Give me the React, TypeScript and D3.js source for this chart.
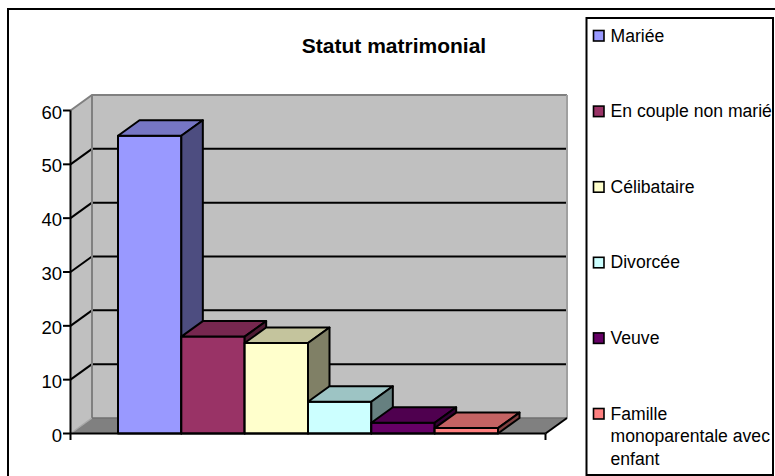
import React from "react";
import * as d3 from "d3";

const title = "Statut matrimonial";
const categories = [
  "Mariée",
  "En couple non mariée",
  "Célibataire",
  "Divorcée",
  "Veuve",
  "Famille monoparentale avec enfant",
];
const values = [55.3, 18, 16.8, 5.9, 2, 1];
const colors = ["#9999FF", "#993366", "#FFFFCC", "#CCFFFF", "#660066", "#FF8080"];
const yTicks = [0, 10, 20, 30, 40, 50, 60];
const legendLines = [
  ["Mariée"],
  ["En couple non mariée"],
  ["Célibataire"],
  ["Divorcée"],
  ["Veuve"],
  ["Famille", "monoparentale avec", "enfant"],
];

const FONT = "'Liberation Sans', Arial, sans-serif";
const W = 775;
const H = 476;

function shade(c: string, f: number) {
  const r = d3.rgb(c);
  return d3.rgb(r.r * f, r.g * f, r.b * f).formatHex();
}

export default function App() {
  const x0 = 70.5;
  const x1 = 545.5;
  const DX = 21.5;
  const DY = -15.5;
  const y = d3.scaleLinear().domain([0, 60]).range([433.5, 110.5]);
  const x = d3
    .scaleBand<string>()
    .domain(categories)
    .range([x0, x1])
    .paddingInner(0)
    .paddingOuter(0.75);
  const bw = x.bandwidth();
  const yb = (v: number) => y(v) + DY;

  const pts = (arr: number[][]) => arr.map((p) => p.join(",")).join(" ");

  const legX = 586.5;
  const legY = 18;
  const legW = 186.5;
  const legH = 457;
  const itemY0 = 35.5;
  const itemStep = 75.6;

  return (
    <div style={{ position: "absolute", left: 0, top: 0 }}>
      <svg width={W} height={H} style={{ display: "block" }} fontFamily={FONT}>
        <defs>
          <clipPath id="legclip">
            <rect x={legX} y={legY} width={legW} height={legH} />
          </clipPath>
        </defs>
        <rect x={0} y={0} width={W} height={H} fill="#fff" />
        {/* outer chart border */}
        <rect x={8} y={9} width={800} height={520} fill="none" stroke="#000" strokeWidth={2} />

        {/* title */}
        <text x={394} y={53} textAnchor="middle" fontWeight="bold" fontSize={21}>
          {title}
        </text>

        {/* side wall */}
        <polygon
          points={pts([
            [x0, y(60)],
            [x0 + DX, yb(60)],
            [x0 + DX, yb(0)],
            [x0, y(0)],
          ])}
          fill="#C0C0C0"
        />
        {/* back wall */}
        <rect
          x={x0 + DX}
          y={yb(60)}
          width={x1 - x0}
          height={yb(0) - yb(60)}
          fill="#C0C0C0"
        />
        {/* floor */}
        <polygon
          points={pts([
            [x0, y(0)],
            [x0 + DX, yb(0)],
            [x1 + DX, yb(0)],
            [x1, y(0)],
          ])}
          fill="#808080"
        />
        {/* gridlines */}
        {yTicks
          .filter((t) => t > 0 && t < 60)
          .map((t) => (
            <g key={"g" + t}>
              <line x1={x0} y1={y(t)} x2={x0 + DX} y2={yb(t)} stroke="#000" strokeWidth={2} />
              <line x1={x0 + DX} y1={yb(t)} x2={x1 + DX} y2={yb(t)} stroke="#000" strokeWidth={2} />
            </g>
          ))}
        {/* wall edges */}
        <polyline
          points={pts([
            [x0, y(60)],
            [x0 + DX, yb(60)],
            [x1 + DX, yb(60)],
          ])}
          fill="none"
          stroke="#808080"
          strokeWidth={2}
        />
        <line x1={x0 + DX} y1={yb(60)} x2={x0 + DX} y2={yb(0)} stroke="#808080" strokeWidth={2} />
        <line x1={x1 + DX} y1={yb(60)} x2={x1 + DX} y2={yb(0)} stroke="#A0A0A0" strokeWidth={2} />
        <line x1={x0} y1={y(0)} x2={x0 + DX} y2={yb(0)} stroke="#A8A8A8" strokeWidth={1.5} />
        <line x1={x0 + DX} y1={yb(0)} x2={x1 + DX} y2={yb(0)} stroke="#707070" strokeWidth={1.5} />

        {/* bars */}
        {categories.map((c, i) => {
          const xl = x(c) as number;
          const xr = xl + bw;
          const yt = y(values[i]);
          const yB = y(0);
          const col = colors[i];
          return (
            <g key={c} stroke="#000" strokeWidth={2} strokeLinejoin="round">
              <polygon
                points={pts([
                  [xl, yt],
                  [xr, yt],
                  [xr, yB],
                  [xl, yB],
                ])}
                fill={col}
              />
              <polygon
                points={pts([
                  [xl, yt],
                  [xl + DX, yt + DY],
                  [xr + DX, yt + DY],
                  [xr, yt],
                ])}
                fill={shade(col, 0.77)}
              />
              <polygon
                points={pts([
                  [xr, yt],
                  [xr + DX, yt + DY],
                  [xr + DX, yB + DY],
                  [xr, yB],
                ])}
                fill={shade(col, 0.5)}
              />
            </g>
          );
        })}

        {/* floor front & right edges (category axis) */}
        <line x1={x0} y1={y(0)} x2={x1} y2={y(0)} stroke="#000" strokeWidth={2} />
        <line x1={x1} y1={y(0)} x2={x1 + DX} y2={yb(0)} stroke="#000" strokeWidth={2} />
        <line x1={x1} y1={y(0)} x2={x1} y2={y(0) + 6.5} stroke="#000" strokeWidth={2} />

        {/* value axis */}
        <line x1={x0} y1={y(60)} x2={x0} y2={y(0) + 6.5} stroke="#000" strokeWidth={2} />
        {yTicks.map((t) => (
          <g key={"t" + t}>
            <line x1={x0 - 7.5} y1={y(t)} x2={x0} y2={y(t)} stroke="#000" strokeWidth={2} />
            <text x={62} y={y(t) + 8} textAnchor="end" fontSize={18.5} fill="#000">
              {t}
            </text>
          </g>
        ))}

        {/* legend */}
        <rect x={legX} y={legY} width={legW} height={legH} fill="#fff" stroke="#000" strokeWidth={2} />
        <g clipPath="url(#legclip)">
          {legendLines.map((lines, i) => {
            const cy = itemY0 + i * itemStep;
            return (
              <g key={"l" + i}>
                <rect
                  x={593.5}
                  y={cy - 5}
                  width={10.5}
                  height={10.5}
                  fill={colors[i]}
                  stroke="#000"
                  strokeWidth={1.6}
                />
                {lines.map((ln, j) => (
                  <text key={j} x={610.5} y={cy + 6 + j * 22.5} fontSize={17.6} fill="#000">
                    {ln}
                  </text>
                ))}
              </g>
            );
          })}
        </g>
      </svg>
    </div>
  );
}
